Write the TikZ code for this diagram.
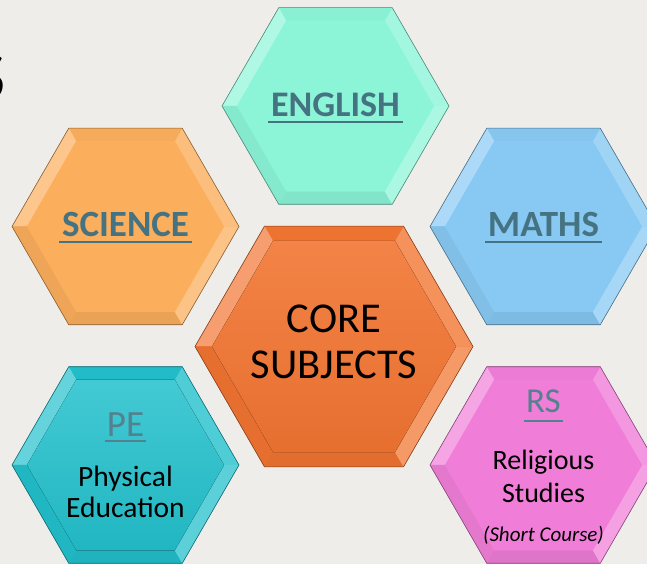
\documentclass[tikz,border=0pt]{standalone}
\usepackage{fontspec}
\setmainfont{Carlito}
\definecolor{bg}{HTML}{EEEDEA}
\definecolor{cEng}{HTML}{8CF5D8}
\definecolor{cSci}{HTML}{FBAE5C}
\definecolor{cMat}{HTML}{88C9F3}
\definecolor{cCore}{HTML}{F27532}
\definecolor{cPE}{HTML}{22C0CC}
\definecolor{cRS}{HTML}{F07ED8}
\definecolor{lbl}{HTML}{457382}
\definecolor{lbllight}{HTML}{55808E}
% #1 name, #2 cx, #3 cy, #4 outer r, #5 colour, #6 inner r, #7 inner fill options
\newcommand\hexa[7]{%
 \begin{scope}[shift={(#2,#3)}]
  \coordinate (#1) at (0,0);
  \fill[#5] (0:#4) -- (60:#4) -- (120:#4) -- (180:#4) -- (240:#4) -- (300:#4) -- cycle;
  \foreach \a/\m in {0/80!white, 60/98!black, 120/70!white, 180/95!black, 240/93!black, 300/74!white}
   \fill[#5!\m] (\a:#4) -- (\a+60:#4) -- (\a+60:#6) -- (\a:#6) -- cycle;
  \fill[#7] (0:#6) -- (60:#6) -- (120:#6) -- (180:#6) -- (240:#6) -- (300:#6) -- cycle;
  \draw[#5!55!black, line width=0.6pt, line join=round] (0:#4) -- (60:#4) -- (120:#4) -- (180:#4) -- (240:#4) -- (300:#4) -- cycle;
 \end{scope}}
\tikzset{
 head/.style={inner sep=0, anchor=base, text=lbl, font=\fontsize{37}{42}\selectfont\bfseries},
 headlight/.style={inner sep=0, anchor=base, text=lbllight, font=\fontsize{36}{40}\selectfont},
 body/.style={inner sep=0, anchor=base, text=black, font=\fontsize{28}{32}\selectfont},
 ul/.style={line width=1.8pt},
}
\begin{document}
\begin{tikzpicture}[x=1pt,y=1pt]
\useasboundingbox (0,0) rectangle (647,564);
\fill[bg] (0,0) rectangle (647,564);
\node[inner sep=0, anchor=base east, font=\fontsize{70}{70}\selectfont] (ttl) at (6,464) {S};

\hexa{eng}{335.5}{458}{113.5}{cEng}{98.5}{fill=cEng}
\hexa{sci}{125.5}{337.5}{113.5}{cSci}{98.5}{fill=cSci}
\hexa{mat}{543.5}{337.5}{113.5}{cMat}{98.5}{fill=cMat}
\hexa{pe}{125.5}{99}{113.5}{cPE}{98.5}{top color=cPE!85!white, bottom color=cPE!95!black}
\hexa{rs}{543.5}{99}{113.5}{cRS}{98.5}{fill=cRS}
\hexa{core}{334}{217.5}{139}{cCore}{122}{top color=cCore!90!white, bottom color=cCore!95!black}

% labels
\node[head, font=\fontsize{36}{42}\selectfont\bfseries] (tEng) at (335.5,447) {ENGLISH};
\draw[ul, lbl] ([xshift=-3pt,yshift=-5pt]tEng.base west) -- ([xshift=3pt,yshift=-5pt]tEng.base east);
\node[head] (tSci) at (125.5,327) {SCIENCE};
\draw[ul, lbl] ([xshift=-3pt,yshift=-5pt]tSci.base west) -- ([xshift=3pt,yshift=-5pt]tSci.base east);
\node[head] (tMat) at (543.5,327) {MATHS};
\draw[ul, lbl] ([xshift=-3pt,yshift=-5pt]tMat.base west) -- ([xshift=3pt,yshift=-5pt]tMat.base east);

\node[inner sep=0, anchor=base, font=\fontsize{42.5}{46}\selectfont] (c1) at (334,231) {CORE};
\node[inner sep=0, anchor=base, font=\fontsize{42.5}{46}\selectfont] (c2) at (334,185) {SUBJECTS};

\node[headlight, font=\fontsize{37}{40}\selectfont] (tPE) at (125.5,127) {PE};
\draw[ul, lbllight, line width=1.4pt] ([xshift=-2pt,yshift=-4pt]tPE.base west) -- ([xshift=2pt,yshift=-4pt]tPE.base east);
\node[body, font=\fontsize{29.5}{32}\selectfont] (pe1) at (125.5,77) {Physical};
\node[body, font=\fontsize{29.5}{32}\selectfont] (pe2) at (125.5,46) {Education};

\node[headlight, font=\fontsize{35}{38}\selectfont] (tRS) at (543.5,151) {RS};
\draw[ul, lbllight, line width=1.4pt] ([xshift=-2pt,yshift=-8pt]tRS.base west) -- ([xshift=2pt,yshift=-8pt]tRS.base east);
\node[body] (rs1) at (543.5,94) {Religious};
\node[body] (rs2) at (543.5,61) {Studies};
\node[body, font=\fontsize{21}{24}\selectfont\itshape] (rs3) at (543.5,22) {(Short Course)};
\end{tikzpicture}
\end{document}
